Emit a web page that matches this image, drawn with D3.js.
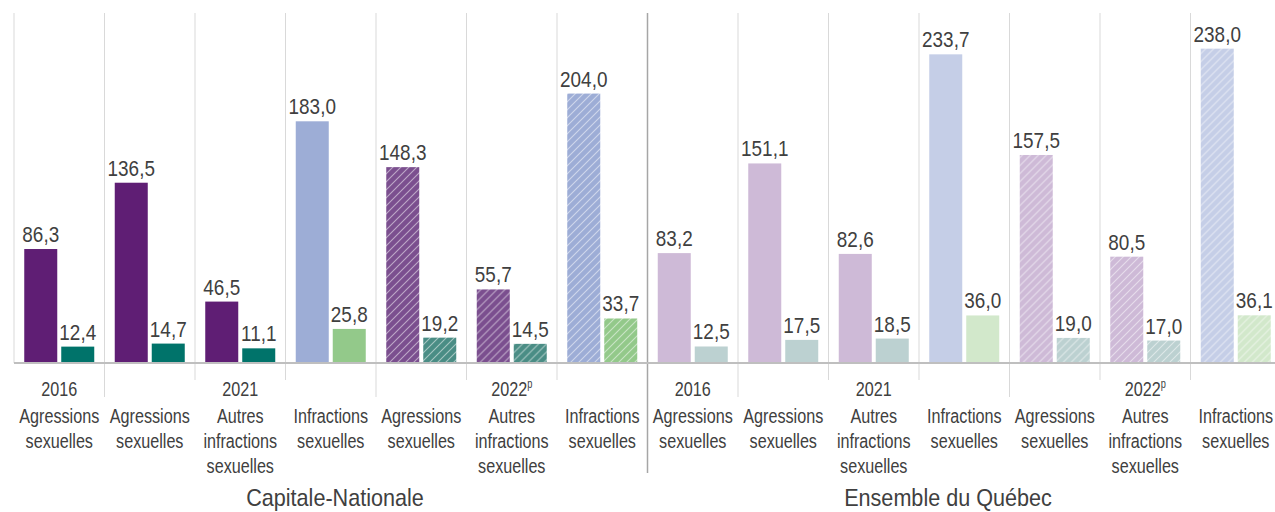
<!DOCTYPE html>
<head>
    <meta charset="utf-8">
    <style>
        body { margin: 0; background: #fff; }
        text { font-family: "Liberation Sans", Arial, sans-serif; fill: #404040; }
        .grid { stroke: #d9d9d9; stroke-width: 1px; }
        .region-sep { stroke: #a6a6a6; stroke-width: 1.5px; }
        .baseline { stroke: #bfbfbf; stroke-width: 2px; }
    </style>
</head>

<body>
    <script src="https://d3js.org/d3.v7.min.js"></script>

    <script>
        var width = 1275,
            height = 512;

        // one entry per group of two bars
        var regions    = ["Capitale-Nationale", "Capitale-Nationale", "Capitale-Nationale", "Capitale-Nationale",
                          "Capitale-Nationale", "Capitale-Nationale", "Capitale-Nationale",
                          "Ensemble du Québec", "Ensemble du Québec", "Ensemble du Québec", "Ensemble du Québec",
                          "Ensemble du Québec", "Ensemble du Québec", "Ensemble du Québec"];
        var years      = ["2016", "2021", "2021", "2021", "2022p", "2022p", "2022p",
                          "2016", "2021", "2021", "2021", "2022p", "2022p", "2022p"];
        var categories = ["Agressions sexuelles", "Agressions sexuelles", "Autres infractions sexuelles", "Infractions sexuelles",
                          "Agressions sexuelles", "Autres infractions sexuelles", "Infractions sexuelles",
                          "Agressions sexuelles", "Agressions sexuelles", "Autres infractions sexuelles", "Infractions sexuelles",
                          "Agressions sexuelles", "Autres infractions sexuelles", "Infractions sexuelles"];
        var values1 = [86.3, 136.5, 46.5, 183.0, 148.3, 55.7, 204.0, 83.2, 151.1, 82.6, 233.7, 157.5, 80.5, 238.0];
        var values2 = [12.4, 14.7, 11.1, 25.8, 19.2, 14.5, 33.7, 12.5, 17.5, 18.5, 36.0, 19.0, 17.0, 36.1];
        var regionNames = ["Capitale-Nationale", "Ensemble du Québec"];

        // colours: [region][kind][series]
        var colors = {
            "Capitale-Nationale": {
                plain:  [["#5f1e74", "#00736a"], ["#9dadd6", "#93c98a"]],
                hatch:  [["#7b4f8f", "#4a8d85"], ["#9dadd6", "#93c98a"]]
            },
            "Ensemble du Québec": {
                plain:  [["#cebad7", "#bcd1d1"], ["#c5cee7", "#d2e8cb"]],
                hatch:  [["#cebad7", "#bcd1d1"], ["#c5cee7", "#d2e8cb"]]
            }
        };

        var svg = d3.select("body").append("svg")
            .attr("width", width)
            .attr("height", height);

        var x0 = d3.scaleBand().domain(d3.range(values1.length)).range([14, 1281]);
        var x1 = d3.scaleBand().domain([0, 1]).range([0, x0.bandwidth()])
            .paddingInner(0.108).paddingOuter(0.277);
        var y = d3.scaleLinear().domain([0, 265]).range([363, 13]);

        //narrow text: a scaled group so it looks like Arial Narrow
        function narrowText(parent, x, yy, size, sx) {
            return parent.append("g")
                .attr("transform", "translate(" + x + "," + yy + ") scale(" + sx + ",1)")
                .append("text")
                .attr("text-anchor", "middle")
                .style("font-size", size + "px");
        }

        //hatch patterns
        var defs = svg.append("defs");
        function hatchId(c) { return "hatch" + c.replace("#", ""); }
        var hatchColors = [];
        Object.keys(colors).forEach(function(r) {
            colors[r].hatch.forEach(function(k) { k.forEach(function(c) { if (hatchColors.indexOf(c) < 0) hatchColors.push(c); }); });
        });
        hatchColors.forEach(function(c) {
            var p = defs.append("pattern")
                .attr("id", hatchId(c))
                .attr("patternUnits", "userSpaceOnUse")
                .attr("width", 8).attr("height", 8);
            p.append("rect").attr("width", 8).attr("height", 8).attr("fill", c);
            p.append("path")
                .attr("d", "M-2,2 l4,-4 M0,8 l8,-8 M6,10 l4,-4")
                .attr("stroke", "#fff").attr("stroke-opacity", 0.5).attr("stroke-width", 1.1);
        });

        function fillFor(i, s) {
            var kind = categories[i] == "Infractions sexuelles" ? 1 : 0;
            if (years[i] == "2022p") return "url(#" + hatchId(colors[regions[i]].hatch[kind][s]) + ")";
            return colors[regions[i]].plain[kind][s];
        }

        //vertical gridlines at group boundaries
        var bounds = d3.range(values1.length + 1).map(function(i) { return 14 + i * x0.step(); });
        svg.selectAll(".grid").data(bounds).enter().append("line")
            .attr("class", "grid")
            .attr("x1", function(d) { return d; }).attr("x2", function(d) { return d; })
            .attr("y1", y(265)).attr("y2", function(d, i) {
                if (i == 0 || i == values1.length || i == 7) return y(0);
                if (years[i] != years[i - 1]) return 397;
                return 380;
            });

        //region separator
        svg.append("line")
            .attr("class", "region-sep")
            .attr("x1", bounds[7]).attr("x2", bounds[7])
            .attr("y1", y(265)).attr("y2", 473);

        //bars
        var groups = svg.selectAll(".group").data(d3.range(values1.length)).enter().append("g")
            .attr("transform", function(i) { return "translate(" + x0(i) + ",0)"; });

        [values1, values2].forEach(function(vals, s) {
            groups.append("rect")
                .attr("x", x1(s))
                .attr("width", x1.bandwidth())
                .attr("y", function(i) { return y(vals[i]); })
                .attr("height", function(i) { return y(0) - y(vals[i]); })
                .attr("fill", function(i) { return fillFor(i, s); });

            groups.each(function(i) {
                narrowText(d3.select(this), x1(s) + x1.bandwidth() / 2, y(vals[i]) - 7, 22, 0.86)
                    .text(d3.format(".1f")(vals[i]).replace(".", ","));
            });
        });

        //baseline
        svg.append("line")
            .attr("class", "baseline")
            .attr("x1", 14).attr("x2", 1281)
            .attr("y1", y(0)).attr("y2", y(0));

        //category labels, one word per line
        groups.each(function(i) {
            var t = narrowText(d3.select(this), x0.bandwidth() / 2, 423, 21, 0.77);
            categories[i].split(" ").forEach(function(w, k) {
                t.append("tspan").attr("x", 0).attr("y", k * 25).text(w);
            });
        });

        //year labels centred over their span
        var yearSpans = [];
        years.forEach(function(yr, i) {
            var last = yearSpans[yearSpans.length - 1];
            if (last && last.year == yr && regions[i] == last.region) last.end = i;
            else yearSpans.push({year: yr, region: regions[i], start: i, end: i});
        });
        yearSpans.forEach(function(d) {
            var cx = (x0(d.start) + x0(d.end) + x0.bandwidth()) / 2;
            var t = narrowText(svg, cx, 396, 21, 0.77);
            if (d.year.slice(-1) == "p") {
                t.append("tspan").text(d.year.slice(0, -1));
                t.append("tspan").attr("dy", -8).style("font-size", "12px").text("p");
            } else {
                t.text(d.year);
            }
        });

        //region labels
        var regionX = [335, 948];
        regionNames.forEach(function(r, k) {
            narrowText(svg, regionX[k], 506, 24, 0.9).text(r);
        });
    </script>
</body>
